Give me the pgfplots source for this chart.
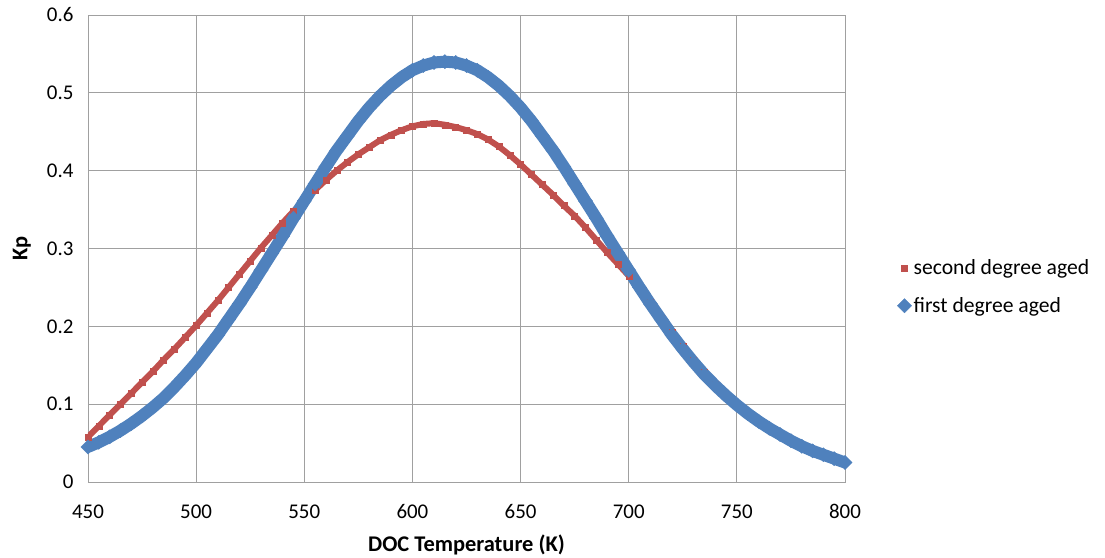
\documentclass[border=0pt]{standalone}
\usepackage{fontspec}
\setmainfont{Carlito}
\usepackage{pgfplots}
\usepackage{pgfplotstable}
\pgfplotsset{compat=1.18}
\definecolor{exred}{RGB}{192,80,77}
\definecolor{exblue}{RGB}{79,129,189}
\definecolor{gridgray}{RGB}{160,160,160}

\pgfplotstableread{
T Kp
450 0.058
455 0.072
460 0.086
465 0.100
470 0.114
475 0.128
480 0.142
485 0.157
490 0.171
495 0.186
500 0.201
505 0.217
510 0.233
515 0.250
520 0.267
525 0.284
530 0.301
535 0.317
540 0.333
545 0.348
550 0.362
555 0.375
560 0.388
565 0.400
570 0.411
575 0.421
580 0.430
585 0.439
590 0.446
595 0.452
600 0.457
605 0.460
610 0.461
615 0.459
620 0.456
625 0.452
630 0.447
635 0.440
640 0.431
645 0.420
650 0.408
655 0.395
660 0.382
665 0.369
670 0.355
675 0.342
680 0.327
685 0.311
690 0.295
695 0.280
700 0.265
705 0.250
710 0.231
715 0.211
720 0.192
725 0.174
730 0.157
735 0.141
740 0.126
745 0.112
}\redtable

\pgfplotstableread{
T Kp
450 0.045
455 0.051
460 0.058
465 0.066
470 0.075
475 0.085
480 0.096
485 0.108
490 0.122
495 0.137
500 0.153
505 0.171
510 0.189
515 0.209
520 0.229
525 0.250
530 0.272
535 0.294
540 0.316
545 0.339
550 0.361
555 0.383
560 0.405
565 0.426
570 0.445
575 0.464
580 0.481
585 0.496
590 0.509
595 0.520
600 0.529
605 0.535
610 0.539
615 0.540
620 0.539
625 0.535
630 0.529
635 0.520
640 0.509
645 0.496
650 0.481
655 0.464
660 0.445
665 0.426
670 0.405
675 0.383
680 0.361
685 0.339
690 0.316
695 0.294
700 0.272
705 0.250
710 0.229
715 0.209
720 0.189
725 0.171
730 0.154
735 0.138
740 0.124
745 0.111
750 0.099
755 0.088
760 0.078
765 0.069
770 0.061
775 0.053
780 0.046
785 0.040
790 0.035
795 0.030
800 0.025
}\bluetable

\begin{document}
\begin{tikzpicture}
\begin{axis}[
  scale only axis, width=757bp, height=467bp,
  xmin=450, xmax=800, ymin=0, ymax=0.6,
  xtick={450,500,550,600,650,700,750,800},
  ytick={0,0.1,0.2,0.3,0.4,0.5,0.6},
  grid=major,
  major grid style={gridgray, line width=0.9bp},
  axis line style={gridgray, line width=0.9bp},
  major tick length=0pt,
  /pgf/number format/assume math mode=true,
  tick label style={font=\fontsize{21}{25}\selectfont, text=black},
  yticklabel style={/pgf/number format/fixed, /pgf/number format/precision=1, xshift=-11bp},
  xticklabel style={yshift=-19bp, /pgf/number format/set thousands separator={}},
  xlabel={DOC Temperature (K)},
  ylabel={Kp},
  label style={font=\fontsize{22.5}{27}\selectfont\bfseries},
  xlabel style={at={(axis description cs:0.5,-0.1349)}, anchor=center},
  ylabel style={at={(axis description cs:-0.0872,0.5)}, anchor=center},
  legend style={at={(1.069,0.4176)}, anchor=west, draw=none, fill=none,
    font=\fontsize{21.7}{26}\selectfont, row sep=17bp, inner sep=0pt},
  legend cell align=left,
  legend image code/.code={\draw[#1] plot coordinates {(0.2cm,0cm)};},
]
\addplot[exred, line width=6bp, forget plot] table[x=T,y=Kp] {\redtable};
\addplot[only marks, mark=square*, mark size=3bp, color=exred, mark options={fill=exred, draw=exred}] table[x=T,y=Kp] {\redtable};
\addlegendentry{second degree aged}
\addplot[exblue, line width=12bp, forget plot] table[x=T,y=Kp] {\bluetable};
\addplot[only marks, mark=square*, mark size=5bp, color=exblue, mark options={fill=exblue, draw=exblue, rotate=45}] table[x=T,y=Kp] {\bluetable};
\addlegendentry{first degree aged}
\end{axis}
\pgfresetboundingbox
\path ([shift={(-88bp,-76bp)}]current axis.south west) rectangle ([shift={(260bp,15bp)}]current axis.north east);
\end{tikzpicture}
\end{document}
